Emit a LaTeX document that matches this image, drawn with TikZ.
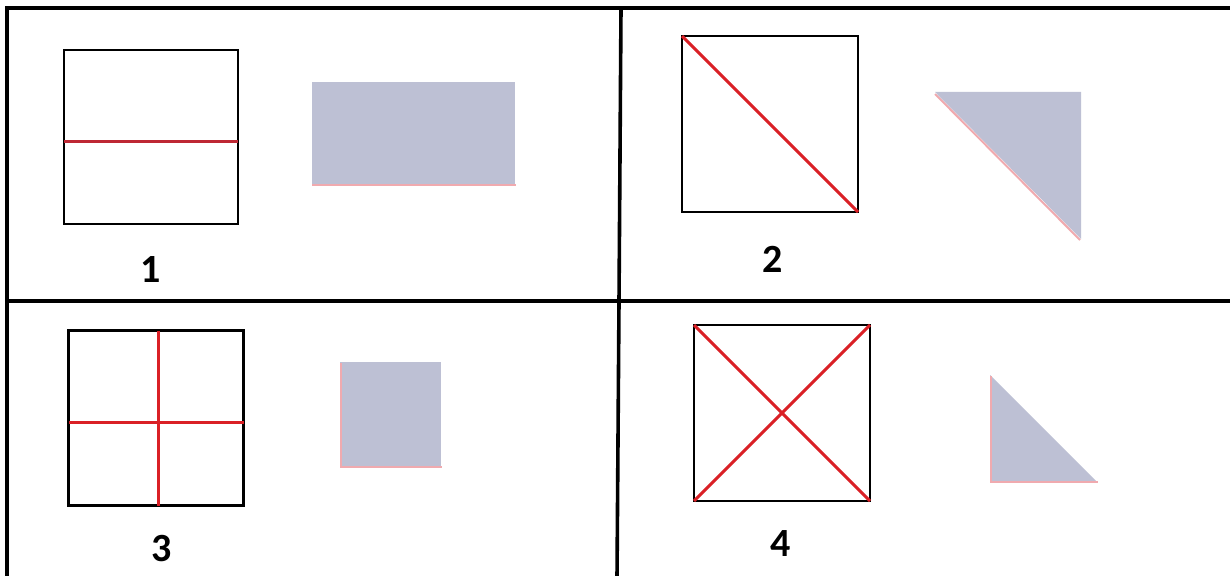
\documentclass[tikz,border=0pt]{standalone}
\usepackage{fontspec}
\setmainfont{Carlito}
\usepackage{tikz}
\definecolor{CutRed}{RGB}{218,32,38}
\definecolor{CutDark}{RGB}{190,40,52}
\definecolor{PieceGray}{RGB}{189,192,212}
\definecolor{PieceEdge}{RGB}{240,170,175}

\begin{document}
\begin{tikzpicture}[x=1pt,y=-1pt,
  frame/.style={line width=3.6pt,black},
  sheet/.style={draw=black,line width=2.4pt,rectangle,minimum width=#1pt,minimum height=#1pt,inner sep=0pt,outer sep=0pt},
  cut/.style={CutRed,line width=3pt},
  piece/.style={fill=PieceGray,draw=none},
  rim/.style={PieceEdge,line width=2pt},
  lbl/.style={font=\bfseries\fontsize{40}{42}\selectfont,inner sep=0pt}]
\useasboundingbox (0,0) rectangle (1230,575);
\fill[white] (0,0) rectangle (1230,575);
% frame and dividers
\coordinate (tl) at (7,8);
\coordinate (tr) at (1232,8);
\coordinate (bl) at (7,577);
\coordinate (ml) at (7,301);
\coordinate (mr) at (1232,301);
\coordinate (vt) at (621,8);
\coordinate (vm) at (619,301);
\coordinate (vb) at (617,577);
\draw[frame] (bl) -- (tl) -- (tr);
\draw[frame] (ml) -- (mr);
\draw[frame] (vt) -- (vm) -- (vb);
% 1: one horizontal cut
\node[sheet=174](sq1) at (151,137) {};
\draw[cut,CutDark] ([yshift=-4pt]sq1.west) -- ([yshift=-4pt]sq1.east);
\fill[piece] (312,82) rectangle (515,185);
\draw[rim] (312,185) -- (516,185);
\node[lbl](n1) at (151,270) {1};
% 2: one diagonal cut
\node[sheet=176](sq2) at (770,124) {};
\draw[cut] (sq2.north west) -- (sq2.south east);
\fill[piece] (935,92) -- (1081,92) -- (1081,239) -- cycle;
\draw[rim] (935,94) -- (1080,240);
\node[lbl](n2) at (773,259) {2};
% 3: two straight cuts
\node[sheet=175](sq3) at (156,418) {};
\draw[cut] ([yshift=-4pt]sq3.west) -- ([yshift=-4pt]sq3.east);
\draw[cut] ([xshift=2pt]sq3.north) -- ([xshift=2pt]sq3.south);
\fill[piece] (340,362) rectangle (441,467);
\draw[rim] (341,363) -- (341,467) -- (442,467);
\node[lbl](n3) at (162,549) {3};
% 4: two diagonal cuts
\node[sheet=176](sq4) at (782,413) {};
\draw[cut] (sq4.north west) -- (sq4.south east);
\draw[cut] (sq4.south west) -- (sq4.north east);
\fill[piece] (990,375) -- (1097,482) -- (990,482) -- cycle;
\draw[rim] (991,376) -- (991,482) -- (1098,482);
\node[lbl](n4) at (781,544) {4};
\end{tikzpicture}
\end{document}
